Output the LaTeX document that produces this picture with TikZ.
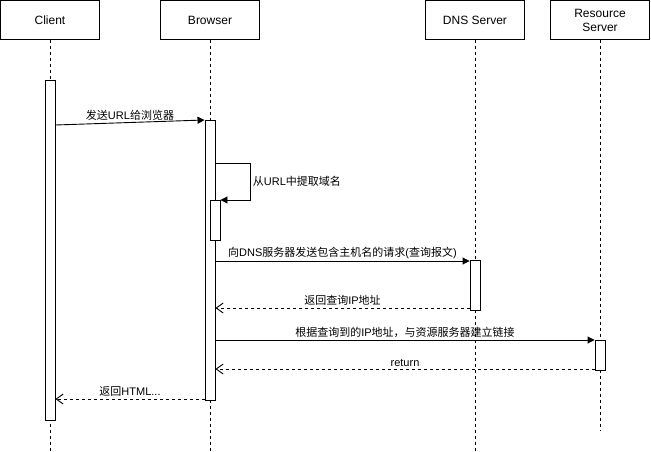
\documentclass[tikz,border=0pt]{standalone}
\usepackage{fontspec}
\setmainfont{Liberation Sans}
\newfontfamily\cjk{Noto Sans CJK SC}
\newcommand{\zhtext}[1]{{\cjk #1}}
\usetikzlibrary{arrows.meta}

\begin{document}
\begin{tikzpicture}[x=1pt,y=-1pt,line width=0.9pt,
  actor/.style={draw,minimum width=99pt,minimum height=39pt,inner sep=2pt,align=center,font=\fontsize{12}{14}\selectfont},
  life/.style={dash pattern=on 3pt off 3pt},
  act/.style={draw,fill=white,minimum width=10pt,inner sep=0pt,anchor=north},
  msg/.style={-{Triangle[length=7pt,width=7pt]}},
  ret/.style={dash pattern=on 3pt off 3pt,-{Straight Barb[length=7pt,width=10pt]}},
  lbl/.style={inner sep=2pt,font=\fontsize{11}{13}\selectfont}]
\useasboundingbox (0,0) rectangle (651,452);
%actors
\node [actor] (cl) at (50,20) {Client};
\node [actor] (br) at (210,20) {Browser};
\node [actor] (dns) at (475,20) {DNS Server};
\node [actor] (rs) at (600,20) {Resource\\Server};

\foreach \n/\e in {cl/452,br/452,dns/452,rs/430}
	\draw [life] (\n.south) -- (\n.south |- 0,\e);

%activations
\node [act,minimum height=340pt] (ac) at (50,80) {};
\node [act,minimum height=280pt] (ab) at (210,120) {};
\node [act,minimum height=40pt] (abs) at (215,200) {};
\node [act,minimum height=50pt] (ad) at (475,260) {};
\node [act,minimum height=30pt] (ar) at (600,340) {};

%messages
\draw [msg] (ac.east |- 0,125) -- node [lbl,above] {\zhtext{发送}URL\zhtext{给浏览器}} (ab.west |- 0,120);
\draw [msg] (ab.east |- 0,163) -- ++(35,0) -- node [lbl,right] {\zhtext{从}URL\zhtext{中提取域名}} ++(0,37) -- (abs.north east);
\draw [msg] (ab.east |- 0,261) -- node [lbl,above] {\zhtext{向}DNS\zhtext{服务器发送包含主机名的请求}(\zhtext{查询报文})} (ad.west |- 0,261);
\draw [ret] (ad.west |- 0,308) -- node [lbl,above] {\zhtext{返回查询}IP\zhtext{地址}} (ab.east |- 0,308);
\draw [msg] (ab.east |- 0,340) -- node [lbl,above] {\zhtext{根据查询到的}IP\zhtext{地址，与资源服务器建立链接}} (ar.west |- 0,340);
\draw [ret] (ar.west |- 0,369) -- node [lbl,above] {return} (ab.east |- 0,369);
\draw [ret] (ab.west |- 0,399) -- node [lbl,above] {\zhtext{返回}HTML...} (ac.east |- 0,399);
\end{tikzpicture}
\end{document}
